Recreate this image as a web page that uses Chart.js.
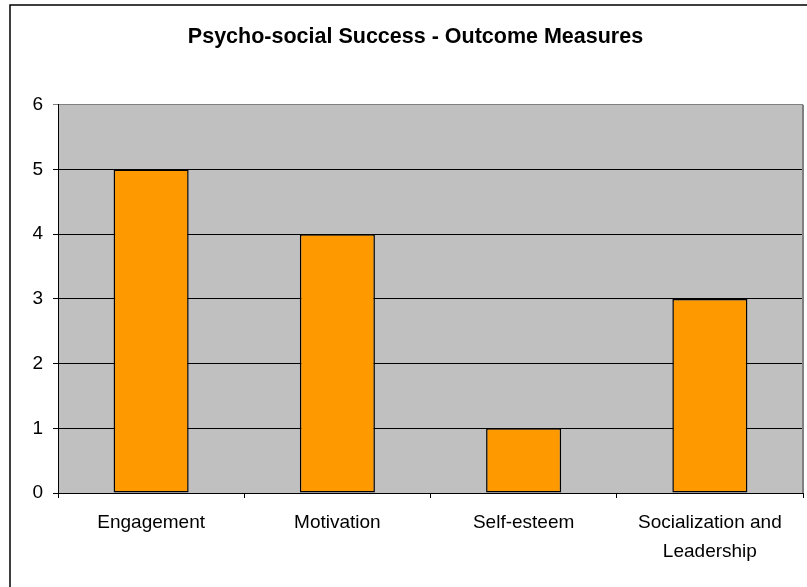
<!DOCTYPE html>
<html>
<head>
<meta charset="utf-8">
<script src="https://cdn.jsdelivr.net/npm/chart.js@4"></script>
<style>
  html, body { margin: 0; padding: 0; background: #ffffff; }
  #wrap { width: 807px; height: 587px; }
</style>
</head>
<body>
<div id="wrap"><canvas id="outcomeChart" width="807" height="587"></canvas></div>
<script>
// Outcome measures and their scores
const categories = ["Engagement", "Motivation", "Self-esteem", ["Socialization and", "Leadership"]];
const scores = [5, 4, 1, 3];
const yMin = 0;
const yMax = 6;
const yStep = 1;

const FONT = "'Liberation Sans', Arial, sans-serif";

// Gray plot area, right edge of the plot frame and the outer chart frame
const framePlugin = {
  id: "frame",
  beforeDraw(chart) {
    const { ctx, chartArea } = chart;
    ctx.save();
    ctx.fillStyle = "#ffffff";
    ctx.fillRect(0, 0, chart.width, chart.height);
    ctx.fillStyle = "#c0c0c0";
    ctx.fillRect(chartArea.left, chartArea.top, chartArea.right - chartArea.left, chartArea.bottom - chartArea.top);
    ctx.strokeStyle = "#000000";
    ctx.lineWidth = 1.5;
    ctx.strokeRect(10, 5, 1000, 1000);
    ctx.restore();
  },
  beforeDatasetsDraw(chart) {
    const { ctx, chartArea } = chart;
    ctx.save();
    ctx.strokeStyle = "#808080";
    ctx.lineWidth = 2;
    ctx.beginPath();
    ctx.moveTo(chartArea.right, chartArea.top);
    ctx.lineTo(chartArea.right, chartArea.bottom);
    ctx.stroke();
    ctx.restore();
  },
};

const ctx = document.getElementById("outcomeChart").getContext("2d");

new Chart(ctx, {
  type: "bar",
  data: {
    labels: categories,
    datasets: [
      {
        label: "Score",
        data: scores,
        backgroundColor: "#ff9900",
        borderColor: "#000000",
        borderWidth: 1.5,
        borderSkipped: false,
        categoryPercentage: 1,
        barPercentage: 0.403,
      },
    ],
  },
  options: {
    responsive: false,
    animation: false,
    layout: {
      padding: { left: 28, right: 4, top: 0, bottom: 0 },
    },
    plugins: {
      legend: { display: false },
      tooltip: { enabled: false },
      title: {
        display: true,
        text: "Psycho-social Success - Outcome Measures",
        color: "#000000",
        font: { family: FONT, size: 21.5, weight: "bold", lineHeight: 1.2 },
        padding: { top: 24, bottom: 55 },
      },
    },
    scales: {
      x: {
        grid: {
          offset: true,
          drawOnChartArea: false,
          drawTicks: true,
          tickLength: 5,
          color: "#000000",
        },
        border: { color: "#000000", width: 1 },
        ticks: {
          color: "#000000",
          font: { family: FONT, size: 19, lineHeight: 1.5 },
          padding: 11,
          maxRotation: 0,
          autoSkip: false,
        },
        afterFit(scale) {
          scale.height = 94;
        },
      },
      y: {
        min: yMin,
        max: yMax,
        grid: {
          color: (c) => (c.tick && c.tick.value === yMax ? "#808080" : "#000000"),
          lineWidth: 1,
          tickLength: 5,
        },
        border: { color: "#000000", width: 1 },
        ticks: {
          stepSize: yStep,
          color: "#000000",
          font: { family: FONT, size: 19 },
          padding: 10,
        },
        afterFit(scale) {
          scale.width = 30;
        },
      },
    },
  },
  plugins: [framePlugin],
});
</script>
</body>
</html>
